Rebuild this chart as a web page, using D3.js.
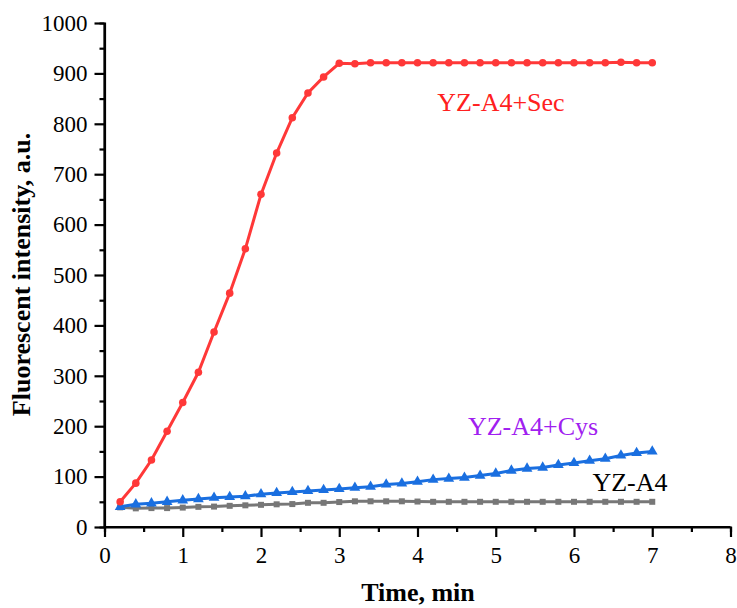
<!DOCTYPE html>
<html><head><meta charset="utf-8">
<script src="https://cdn.jsdelivr.net/npm/d3@7"></script>
<style>body{margin:0;background:#fff}svg{display:block}svg text{font-family:"Times New Roman","Liberation Serif",serif}</style>
</head><body>
<script>
const times = [0.2,0.4,0.6,0.8,1.0,1.2,1.4,1.6,1.8,2.0,2.2,2.4,2.6,2.8,3.0,3.2,3.4,3.6,3.8,4.0,4.2,4.4,4.6,4.8,5.0,5.2,5.4,5.6,5.8,6.0,6.2,6.4,6.6,6.8,7.0];
const sec = [50,87,133,190,247,307,387,464,552,660,742,812,861,893,920,919,921,921,921,921,921,921,921,921,921,921,921,921,921,921,921,921,922,921,921];
const cys = [40,45,47,50,53,55.5,58,59.5,61,65,67.5,69.5,71.5,73.5,75.5,78,80,84.5,86.5,90,94,96,98,102,106,112,116,118,123,127,131.5,135.5,142,147,150];
const blank = [39,37,37.5,37.5,38.5,40,40.5,42,43,44,45,45.5,48,48,49.5,51,51,51,51,50.5,50,50,50,50,50,50,50,50,50,50,50,50,50,50,50];
const xTicks = [0,1,2,3,4,5,6,7,8];
const yTicks = [0,100,200,300,400,500,600,700,800,900,1000];
const seriesNames = ["YZ-A4+Sec","YZ-A4+Cys","YZ-A4"];

const W=737,H=608;
const FONT="'Times New Roman', 'Liberation Serif', serif";
const svg=d3.select("body").append("svg").attr("width",W).attr("height",H);
const x=d3.scaleLinear().domain([0,8]).range([104.5,730.5]);
const y=d3.scaleLinear().domain([0,1000]).range([527,23]);

// minor ticks
svg.append("g").attr("transform","translate(0,527)")
  .call(d3.axisBottom(x).tickValues(d3.range(0.5,8,1)).tickSize(5).tickFormat(""));
svg.append("g").attr("transform","translate(104.5,0)")
  .call(d3.axisLeft(y).tickValues(d3.range(50,1000,100)).tickSize(5).tickFormat(""));
// major
const gx=svg.append("g").attr("transform","translate(0,527)")
  .call(d3.axisBottom(x).tickValues(xTicks).tickSize(10).tickPadding(10).tickFormat(d3.format("d")));
const gy=svg.append("g").attr("transform","translate(104.5,0)")
  .call(d3.axisLeft(y).tickValues(yTicks).tickSize(10).tickPadding(7).tickFormat(d3.format("d")));
svg.selectAll("g").attr("font-family",FONT).attr("font-size",23);
svg.selectAll(".domain").attr("stroke","#000").attr("stroke-width",2.2);
svg.selectAll(".tick line").attr("stroke","#000").attr("stroke-width",2.2);
svg.selectAll(".tick text").attr("fill","#000").style("font-family",FONT);
gy.selectAll(".domain").attr("d",`M0,${y(1000)}V${y(0)}`);
gx.selectAll(".domain").attr("d",`M${x(0)},0H${x(8)}`);

const line=d3.line().x((d,i)=>x(times[i])).y(d=>y(d));
function draw(vals,color,shape,size){
  svg.append("path").datum(vals).attr("d",line).attr("fill","none").attr("stroke",color).attr("stroke-width",3);
  svg.append("g").selectAll("path").data(vals).join("path")
    .attr("transform",(d,i)=>`translate(${x(times[i])},${y(d)})`)
    .attr("d",d3.symbol().type(shape).size(size)).attr("fill",color);
}
draw(blank,"#777777",d3.symbolSquare,36);
draw(cys,"#1a6fe0",d3.symbolTriangle,50);
draw(sec,"#ff3838",d3.symbolCircle,45);

function label(tx,ty,color,txt){
  svg.append("text").attr("x",tx).attr("y",ty).attr("text-anchor","middle")
    .style("font-family",FONT).attr("font-size",26).attr("fill",color).text(txt);
}
label(501,111,"#ff2020",seriesNames[0]);
label(533,435,"#a020f0",seriesNames[1]);
label(630,491,"#000",seriesNames[2]);

svg.append("text").attr("x",418).attr("y",601).attr("text-anchor","middle")
  .style("font-family",FONT).attr("font-size",26).attr("font-weight","bold").text("Time, min");
svg.append("text").attr("transform","translate(30,274.5) rotate(-90)").attr("text-anchor","middle")
  .style("font-family",FONT).attr("font-size",26).attr("font-weight","bold").text("Fluorescent intensity, a.u.");
</script>
</body></html>
